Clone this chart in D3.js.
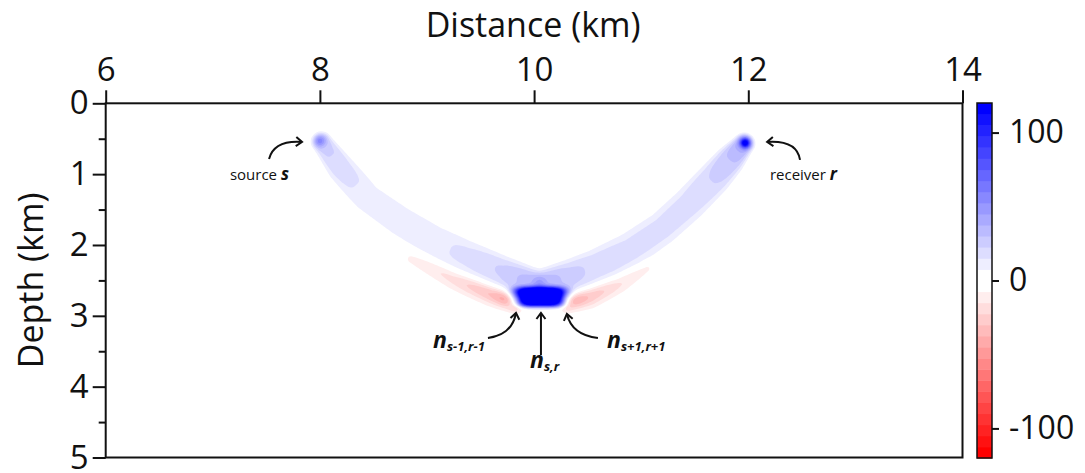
<!DOCTYPE html>
<html>
<head>
<meta charset="utf-8">
<script src="https://cdn.jsdelivr.net/npm/d3@7"></script>
<style>
  body { margin: 0; background: #fff; }
  text { font-family: "Open Sans", sans-serif; fill: #111; }
</style>
</head>
<body>
<div id="chart"></div>
<script>
// Axis ticks
const xTicks = [6, 8, 10, 12, 14]
const yTicks = [0, 1, 2, 3, 4, 5]
const yMinorTicks = [0.5, 1.5, 2.5, 3.5, 4.5]
const colorTicks = [100, 0, -100]

// Source -> scatterer arm (km), amplitude and half width (km)
const leftArmX = [8.02, 8.20, 8.44, 8.75, 9.06, 9.37, 9.68, 9.93]
const leftArmZ = [0.55, 0.92, 1.33, 1.66, 1.94, 2.19, 2.41, 2.56]
const leftArmAmp = [26, 19, 12, 12, 13, 17, 24, 34]
const leftArmW = [0.09, 0.13, 0.15, 0.16, 0.16, 0.17, 0.17, 0.16]

// Receiver -> scatterer arm
const rightArmX = [11.96, 11.83, 11.68, 11.45, 11.20, 10.90, 10.58, 10.35, 10.17]
const rightArmZ = [0.57, 0.80, 1.06, 1.42, 1.76, 2.07, 2.32, 2.47, 2.56]
const rightArmAmp = [42, 30, 23, 18, 17, 17, 20, 26, 34]
const rightArmW = [0.09, 0.13, 0.15, 0.16, 0.16, 0.17, 0.17, 0.17, 0.16]

// Negative side lobes
const leftLobeX = [8.85, 9.25, 9.60, 9.82]
const leftLobeZ = [2.20, 2.48, 2.68, 2.80]
const leftLobeAmp = [-9, -18, -34, -55]
const leftLobeW = [0.07, 0.10, 0.10, 0.08]
const rightLobeX = [11.05, 10.80, 10.52, 10.32]
const rightLobeZ = [2.33, 2.55, 2.72, 2.80]
const rightLobeAmp = [-9, -16, -30, -48]
const rightLobeW = [0.07, 0.09, 0.10, 0.08]

// Peaks at source, receiver and scatterer
const tipX = [8.00, 11.97]
const tipZ = [0.53, 0.56]
const tipAmp = [32, 95]
const tipSize = [0.04, 0.032]
const scatterX = 10.055, scatterZ = 2.735, scatterAmp = 175
const scatterSx = 0.24, scatterSz = 0.135

function draw() {
  const width = 1085, height = 473

  const x = d3.scaleLinear().domain([6, 14]).range([105.7, 962.5])
  const y = d3.scaleLinear().domain([0, 5]).range([103.3, 457.5])
  const kmPx = x(1) - x(0)

  const svg = d3.select('#chart').append('svg')
    .attr('width', width).attr('height', height)

  // colour: white round zero, pure blue/red at the ends
  const blueRed = d3.scaleLinear()
    .domain([-112.5, 0, 112.5])
    .range(['#ff0000', '#ffffff', '#0000ff'])
    .clamp(true)
  const step = 7.5

  // field on a grid
  const nx = 400, nz = 250
  const dx = 8 / nx, dz = 5 / nz

  const tubes = [
    {X: leftArmX, Z: leftArmZ, A: leftArmAmp, W: leftArmW, p: 4},
    {X: rightArmX, Z: rightArmZ, A: rightArmAmp, W: rightArmW, p: 4},
    {X: leftLobeX, Z: leftLobeZ, A: leftLobeAmp, W: leftLobeW, p: 2},
    {X: rightLobeX, Z: rightLobeZ, A: rightLobeAmp, W: rightLobeW, p: 2}
  ].map(t => ({
    px: t.X.map(v => x(v)), py: t.Z.map(v => y(v)),
    A: t.A, W: t.W.map(v => v * kmPx), p: t.p
  }))

  function tubeValue(t, qx, qy) {
    let best = Infinity, amp = 0, w = 1
    for (let k = 0; k < t.px.length - 1; k++) {
      const ax = t.px[k], ay = t.py[k]
      const vx = t.px[k + 1] - ax, vy = t.py[k + 1] - ay
      let s = ((qx - ax) * vx + (qy - ay) * vy) / (vx * vx + vy * vy)
      s = Math.max(0, Math.min(1, s))
      const d = Math.hypot(qx - ax - s * vx, qy - ay - s * vy)
      if (d < best) {
        best = d
        amp = t.A[k] + s * (t.A[k + 1] - t.A[k])
        w = t.W[k] + s * (t.W[k + 1] - t.W[k])
      }
    }
    return amp * Math.exp(-Math.pow(best / w, t.p))
  }

  const values = new Float64Array(nx * nz)
  for (let j = 0; j < nz; j++) {
    for (let i = 0; i < nx; i++) {
      const xk = 6 + (i + 0.5) * dx, zk = (j + 0.5) * dz
      const qx = x(xk), qy = y(zk)
      let v = 0
      tubes.forEach(t => { v += tubeValue(t, qx, qy) })
      tipX.forEach((tx, n) => {
        const r2 = ((qx - x(tx)) ** 2 + (qy - y(tipZ[n])) ** 2) / (tipSize[n] * kmPx) ** 2
        v += tipAmp[n] * Math.exp(-r2 / 2)
      })
      const rx = Math.abs(xk - scatterX) / scatterSx
      const rz = Math.abs(zk - scatterZ) / scatterSz
      const r = Math.pow(rx ** 4 + rz ** 4, 0.25)
      v += scatterAmp * Math.exp(-Math.pow(r, 4))
      values[i + j * nx] = v
    }
  }

  const levels = d3.range(step, 120, step)
  const contours = d3.contours().size([nx, nz]).thresholds(levels)
  const pos = contours(Array.from(values))
  const neg = contours(Array.from(values, v => -v))

  const path = d3.geoPath(d3.geoTransform({
    point: function (gx, gy) { this.stream.point(x(6 + gx * dx), y(gy * dz)) }
  }))

  svg.append('clipPath').attr('id', 'plot-clip')
    .append('rect')
    .attr('x', x(6)).attr('y', y(0))
    .attr('width', x(14) - x(6)).attr('height', y(5) - y(0))

  const field = svg.append('g').attr('clip-path', 'url(#plot-clip)')
  field.selectAll('path.pos')
    .data(pos)
    .join('path')
    .attr('class', 'pos')
    .attr('d', path)
    .attr('fill', d => blueRed(d.value))
  field.selectAll('path.neg')
    .data(neg)
    .join('path')
    .attr('class', 'neg')
    .attr('d', path)
    .attr('fill', d => blueRed(-d.value))

  // axes
  const xAxis = d3.axisTop(x).tickValues(xTicks).tickSize(13).tickSizeOuter(0).tickPadding(9)
    .tickFormat(d3.format('d'))
  const gx = svg.append('g').attr('transform', `translate(0,${y(0)})`).call(xAxis)
  gx.selectAll('text').attr('font-size', 33)

  const yAxis = d3.axisLeft(y).tickValues(yTicks).tickSize(13).tickSizeOuter(0).tickPadding(4)
    .tickFormat(d3.format('d'))
  const gy = svg.append('g').attr('transform', `translate(${x(6)},0)`).call(yAxis)
  gy.selectAll('text').attr('font-size', 33)

  const yMinor = d3.axisLeft(y).tickValues(yMinorTicks).tickSize(7).tickSizeOuter(0).tickFormat('')
  svg.append('g').attr('transform', `translate(${x(6)},0)`).call(yMinor)

  svg.selectAll('.domain').remove()
  svg.selectAll('.tick line').attr('stroke', '#111').attr('stroke-width', 2)
  svg.selectAll('.tick text').attr('fill', '#111').attr('font-family', '"Open Sans", sans-serif')

  svg.append('rect')
    .attr('x', x(6)).attr('y', y(0))
    .attr('width', x(14) - x(6)).attr('height', y(5) - y(0))
    .attr('fill', 'none').attr('stroke', '#111').attr('stroke-width', 2)

  svg.append('text')
    .attr('x', (x(6) + x(14)) / 2 - 1).attr('y', 37)
    .attr('text-anchor', 'middle').attr('font-size', 34)
    .text('Distance (km)')

  svg.append('text')
    .attr('transform', `translate(43,${(y(0) + y(5)) / 2}) rotate(-90)`)
    .attr('text-anchor', 'middle').attr('font-size', 34)
    .text('Depth (km)')

  // colour bar
  const cb = d3.scaleLinear().domain([-120, 120]).range([458, 103])
  const cbX = 977, cbW = 15
  const bands = d3.range(-120, 120, step)
  svg.append('g').selectAll('rect')
    .data(bands)
    .join('rect')
    .attr('x', cbX).attr('width', cbW)
    .attr('y', d => cb(d + step))
    .attr('height', d => cb(d) - cb(d + step) + 0.5)
    .attr('fill', d => blueRed(d >= 0 ? d : d + step))
  svg.append('rect')
    .attr('x', cbX).attr('y', cb(120)).attr('width', cbW).attr('height', cb(-120) - cb(120))
    .attr('fill', 'none').attr('stroke', '#111').attr('stroke-width', 1.5)
  const cAxis = d3.axisRight(cb).tickValues(colorTicks).tickSize(7).tickSizeOuter(0).tickPadding(10)
    .tickFormat(d => (d < 0 ? '-' : '') + Math.abs(d))
  const gc = svg.append('g').attr('transform', `translate(${cbX + cbW},0)`).call(cAxis)
  gc.select('.domain').remove()
  gc.selectAll('line').attr('stroke', '#111').attr('stroke-width', 2)
  gc.selectAll('text').attr('font-size', 32).attr('fill', '#111')
    .attr('font-family', '"Open Sans", sans-serif')

  // annotations
  svg.append('defs').append('marker')
    .attr('id', 'head').attr('viewBox', '-8 -6 10 12')
    .attr('markerWidth', 10).attr('markerHeight', 12)
    .attr('markerUnits', 'userSpaceOnUse')
    .attr('orient', 'auto')
    .append('path')
    .attr('d', 'M-6,-4.5 L0,0 L-6,4.5')
    .attr('fill', 'none').attr('stroke', '#111').attr('stroke-width', 2)

  const arrows = [
    [[7.525, 0.786], [7.572, 0.518], [7.833, 0.546]],
    [[12.483, 0.800], [12.455, 0.518], [12.176, 0.546]],
    [[9.569, 3.313], [9.793, 3.271], [9.831, 2.960]],
    [[10.064, 3.553], [10.064, 3.25], [10.064, 2.960]],
    [[10.596, 3.313], [10.353, 3.271], [10.306, 2.974]]
  ]
  svg.append('g').selectAll('path')
    .data(arrows)
    .join('path')
    .attr('d', d => `M${x(d[0][0])},${y(d[0][1])} Q${x(d[1][0])},${y(d[1][1])} ${x(d[2][0])},${y(d[2][1])}`)
    .attr('fill', 'none').attr('stroke', '#111').attr('stroke-width', 2)
    .attr('marker-end', 'url(#head)')

  const src = svg.append('text')
    .attr('x', x(7.711)).attr('y', y(1.083)).attr('text-anchor', 'end').attr('font-size', 15)
  src.append('tspan').text('source ')
  src.append('tspan').attr('font-weight', 'bold').attr('font-style', 'italic').attr('font-size', 17).text('s')

  const rec = svg.append('text')
    .attr('x', x(12.202)).attr('y', y(1.083)).attr('font-size', 15)
  rec.append('tspan').text('receiver ')
  rec.append('tspan').attr('font-weight', 'bold').attr('font-style', 'italic').attr('font-size', 17).text('r')

  const nLabels = [
    {x: 9.056, z: 3.454, sub: 's-1,r-1'},
    {x: 9.962, z: 3.737, sub: 's,r'},
    {x: 10.681, z: 3.454, sub: 's+1,r+1'}
  ]
  nLabels.forEach(d => {
    const t = svg.append('text')
      .attr('x', x(d.x)).attr('y', y(d.z))
      .attr('font-weight', 'bold').attr('font-style', 'italic')
    t.append('tspan').attr('font-size', 23).text('n')
    t.append('tspan').attr('font-size', 13).attr('dy', 3).text(d.sub)
  })
}

draw()
</script>
</body>
</html>
